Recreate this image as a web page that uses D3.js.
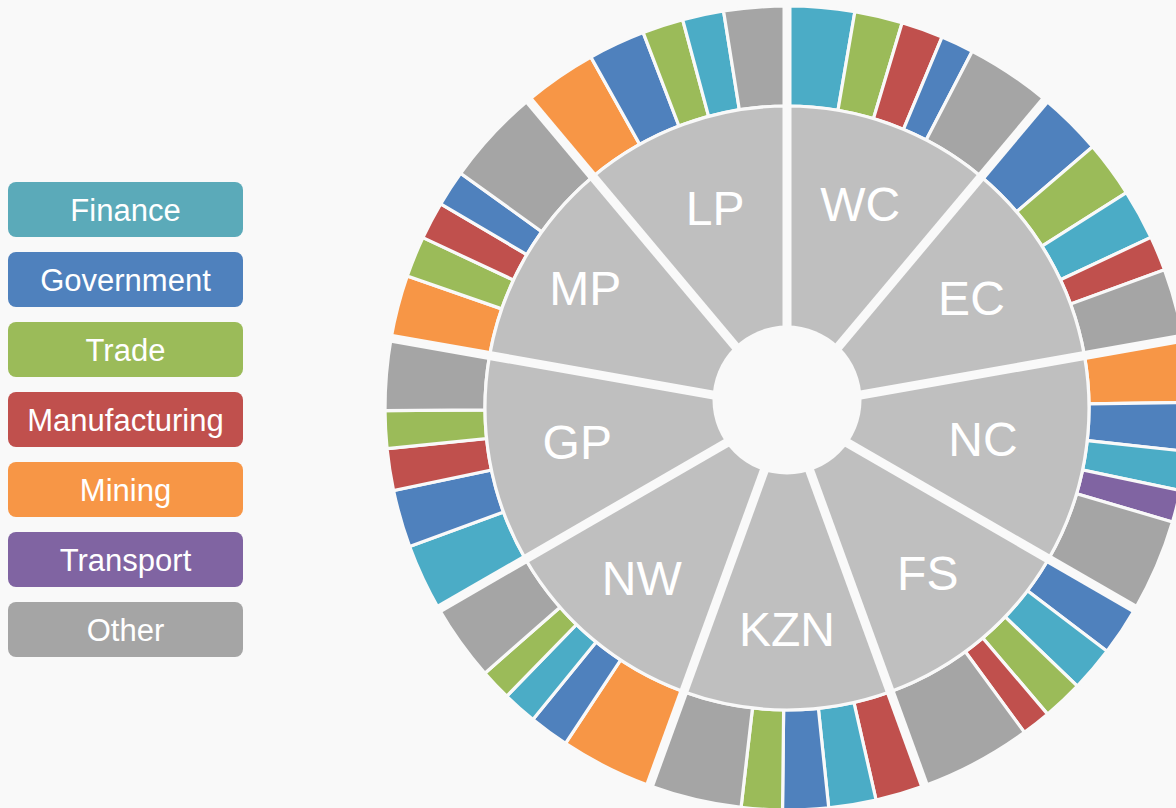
<!DOCTYPE html>
<html>
<head>
<meta charset="utf-8">
<script src="https://cdn.jsdelivr.net/npm/d3@7"></script>
<style>
  html, body { margin: 0; padding: 0; background: #f9f9f9; }
  svg { display: block; }
</style>
</head>
<body>
<svg id="chart" width="1176" height="808"></svg>
<script>
// ---- data ----
const provinces = ["WC", "EC", "NC", "FS", "KZN", "NW", "GP", "MP", "LP"];
const legendSectors = ["Finance", "Government", "Trade", "Manufacturing", "Mining", "Transport", "Other"];
const sectorOrder = [
  ["Finance", "Trade", "Manufacturing", "Government", "Other"],      // WC
  ["Government", "Trade", "Finance", "Manufacturing", "Other"],      // EC
  ["Mining", "Government", "Finance", "Transport", "Other"],         // NC
  ["Government", "Finance", "Trade", "Manufacturing", "Other"],      // FS
  ["Manufacturing", "Finance", "Government", "Trade", "Other"],      // KZN
  ["Mining", "Government", "Finance", "Trade", "Other"],             // NW
  ["Finance", "Government", "Manufacturing", "Trade", "Other"],      // GP
  ["Mining", "Trade", "Manufacturing", "Government", "Other"],       // MP
  ["Mining", "Government", "Trade", "Finance", "Other"]              // LP
];
const sectorShares = [
  [24.3, 17.3, 15.1, 11.9, 31.4],
  [23.7, 20.3, 18.2, 12.5, 25.3],
  [23.0, 17.5, 14.1, 11.6, 33.8],
  [18.1, 16.3, 14.6, 10.5, 40.5],
  [18.0, 17.1, 16.5, 14.8, 33.6],
  [33.6, 14.4, 12.5, 11.3, 28.2],
  [24.6, 20.8, 15.1, 13.6, 25.9],
  [22.9, 14.8, 13.6, 13.0, 35.7],
  [27.0, 20.6, 14.8, 14.9, 22.7]
];

// ---- styles ----
const ringColor = d3.scaleOrdinal()
  .domain(legendSectors)
  .range(["#4bacc6", "#4f81bd", "#9bbb59", "#c0504d", "#f79646", "#8064a2", "#a5a5a5"]);
const legendColor = d3.scaleOrdinal()
  .domain(legendSectors)
  .range(["#5baab9", "#4f81bd", "#9bbb59", "#c0504d", "#f79646", "#8064a2", "#a5a5a5"]);
const bg = "#f9f9f9";
const provinceFill = "#bfbfbf";
const font = "'Liberation Sans', Arial, Helvetica, sans-serif";
// label distance from centre for each province (layout style)
const labelRadius = [214, 213, 199, 219, 224, 226, 213, 233, 210];

const cx = 787, cy = 408;
const svg = d3.select("#chart");
svg.append("rect").attr("width", 1176).attr("height", 808).attr("fill", bg);

// ---- hierarchy ----
const rootData = {
  name: "root",
  children: provinces.map((p, i) => ({
    name: p,
    children: sectorOrder[i].map((s, j) => ({ name: s, value: sectorShares[i][j] }))
  }))
};
const root = d3.hierarchy(rootData).sum(d => d.value || 0);
d3.partition().size([2 * Math.PI, 3])(root);

const radius = d3.scaleLinear().domain([1, 2, 3]).range([0, 302, 402]);

const arc = d3.arc()
  .startAngle(d => d.x0)
  .endAngle(d => d.x1)
  .innerRadius(d => radius(d.y0))
  .outerRadius(d => radius(d.y1));

const g = svg.append("g").attr("transform", `translate(${cx},${cy})`);

// sector ring
g.append("g").selectAll("path")
  .data(root.descendants().filter(d => d.depth === 2))
  .join("path")
  .attr("d", arc)
  .attr("fill", d => ringColor(d.data.name))
  .attr("stroke", bg)
  .attr("stroke-width", 3.2);

// province ring
g.append("g").selectAll("path")
  .data(root.children)
  .join("path")
  .attr("d", arc)
  .attr("fill", provinceFill)
  .attr("stroke", bg)
  .attr("stroke-width", 3.2);

// province separators (constant-width gaps)
g.append("g").selectAll("line")
  .data(root.children)
  .join("line")
  .attr("x1", 0).attr("y1", 0)
  .attr("x2", d => 420 * Math.sin(d.x0))
  .attr("y2", d => -420 * Math.cos(d.x0))
  .attr("stroke", bg)
  .attr("stroke-width", 9);

// centre hole
svg.append("circle")
  .attr("cx", cx).attr("cy", cy - 8).attr("r", 74.5)
  .attr("fill", bg);

// province labels
const labelSize = 48;
g.append("g").selectAll("text")
  .data(root.children)
  .join("text")
  .attr("x", (d, i) => labelRadius[i] * Math.sin((d.x0 + d.x1) / 2))
  .attr("y", (d, i) => -labelRadius[i] * Math.cos((d.x0 + d.x1) / 2) + labelSize * 0.29)
  .attr("text-anchor", "middle")
  .attr("font-family", font)
  .attr("font-size", labelSize)
  .attr("fill", "#ffffff")
  .text(d => d.data.name);

// legend
const legend = svg.append("g");
const items = legend.selectAll("g")
  .data(legendSectors)
  .join("g")
  .attr("transform", (d, i) => `translate(8,${182 + i * 70})`);
items.append("rect")
  .attr("width", 235).attr("height", 55)
  .attr("rx", 8).attr("ry", 8)
  .attr("fill", d => legendColor(d));
items.append("text")
  .attr("x", 117.5).attr("y", 38.5)
  .attr("text-anchor", "middle")
  .attr("font-family", font)
  .attr("font-size", 31)
  .attr("fill", "#ffffff")
  .text(d => d);
</script>
</body>
</html>
